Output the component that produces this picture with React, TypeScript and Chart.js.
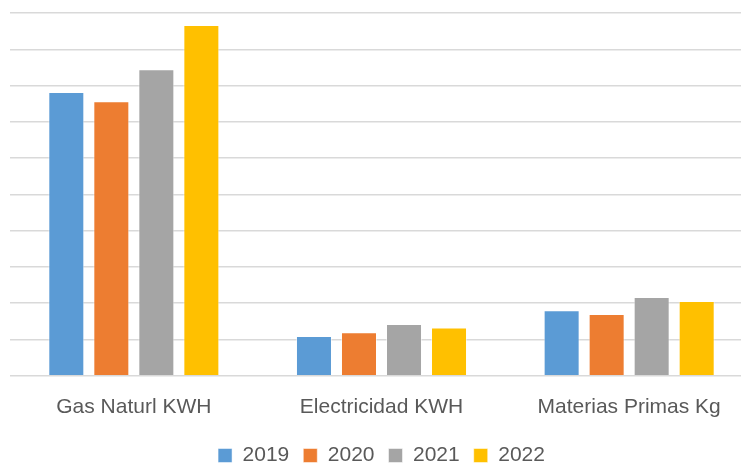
import React, { useEffect, useRef } from "react";
import { Chart, registerables } from "chart.js";

Chart.register(...registerables);

const categories = ["Gas Naturl KWH", "Electricidad KWH", "Materias Primas Kg"];
const series2019 = [7.82, 1.1, 1.81];
const series2020 = [7.57, 1.2, 1.7];
const series2021 = [8.45, 1.43, 2.17];
const series2022 = [9.67, 1.33, 2.06];
const seriesLabels = ["2019", "2020", "2021", "2022"];
const seriesColors = ["#5B9BD5", "#ED7D31", "#A5A5A5", "#FFC000"];

export default function App() {
  const ref = useRef<HTMLCanvasElement | null>(null);
  useEffect(() => {
    if (!ref.current) return;
    const values = [series2019, series2020, series2021, series2022];
    const chart = new Chart(ref.current, {
      type: "bar",
      data: {
        labels: categories,
        datasets: values.map((v, i) => ({
          label: seriesLabels[i],
          data: v,
          backgroundColor: seriesColors[i],
          borderColor: "rgba(255,255,255,0.5)",
          borderWidth: 1,
          categoryPercentage: 0.727,
          barPercentage: 0.8,
        })),
      },
      options: {
        animation: false,
        responsive: false,
        maintainAspectRatio: false,
        layout: { padding: { left: 10, right: 7, top: 13, bottom: 0 } },
        plugins: {
          legend: {
            position: "bottom",
            labels: {
              boxWidth: 14,
              boxHeight: 14,
              color: "#595959",
              font: { family: "Liberation Sans", size: 21 },
              padding: 14,
            },
          },
          tooltip: { enabled: false },
        },
        scales: {
          x: {
            grid: { display: false },
            border: { display: false },
            ticks: {
              color: "#595959",
              font: { family: "Liberation Sans", size: 21 },
              padding: 11,
            },
          },
          y: {
            min: 0,
            max: 10,
            ticks: { display: false, stepSize: 1 },
            grid: { color: "#D9D9D9", lineWidth: 1.5, drawTicks: false },
            border: { display: false },
          },
        },
      },
    });
    return () => chart.destroy();
  }, []);
  return (
    <div
      style={{
        position: "fixed",
        left: 0,
        top: 0,
        width: 741,
        height: 468,
        overflow: "hidden",
        background: "#fff",
      }}
    >
      <canvas ref={ref} width={760} height={476} style={{ display: "block" }} />
    </div>
  );
}
